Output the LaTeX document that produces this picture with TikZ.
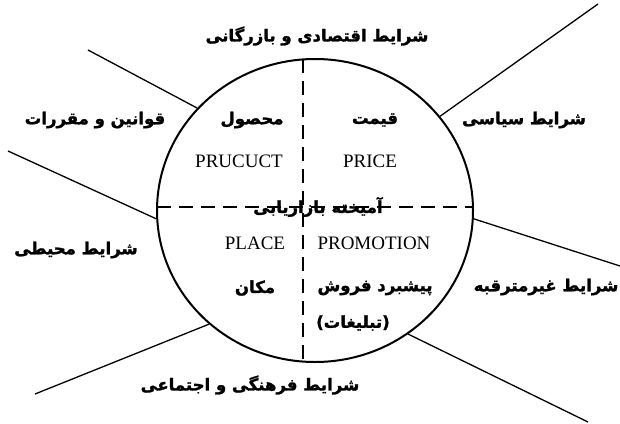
\documentclass[tikz,border=0pt]{standalone}
\usepackage{fontspec}
\setmainfont{Liberation Serif}
\newfontfamily\fa[Script=Arabic,BoldFont={DejaVu Sans Bold},BoldFeatures={FakeBold=1.6}]{DejaVu Sans}
\TeXXeTstate=1
\usetikzlibrary{shapes.geometric}
\begin{document}
\begin{tikzpicture}[x=1pt,y=-1pt,
  falabel/.style={font=\fa\bfseries\fontsize{16.5}{20}\selectfont, inner sep=0pt},
  enlabel/.style={font=\fontsize{19}{22}\selectfont, inner sep=0pt},
  spoke/.style={line width=1.3pt},
  divider/.style={line width=1.2pt, dash pattern=on 14pt off 8pt}]
\useasboundingbox (0,0) rectangle (620,423);

% the marketing-mix ellipse
\node[ellipse, draw, line width=2pt, minimum width=316pt, minimum height=303pt,
      inner sep=0pt] (mix) at (315,210.5) {};

% quadrant dividers
\coordinate (vtop) at (303,59.4);
\coordinate (vbot) at (303,361.6);
\coordinate (hleft) at (157,207);
\coordinate (hright) at (473,207);
\draw[divider] (vtop) -- (vbot);
\draw[divider] (hleft) -- (hright);

% spokes towards the environment
\coordinate (ur) at (598,4);
\coordinate (ul) at (88,50);
\coordinate (ml) at (8,151);
\coordinate (mr) at (620,266);
\coordinate (bl) at (35,394);
\coordinate (br) at (588,422);
\draw[spoke] (mix.37) -- (ur);
\draw[spoke] (mix.139.3) -- (ul);
\draw[spoke] (mix.183.8) -- (ml);
\draw[spoke] (mix.357) -- (mr);
\draw[spoke] (mix.227.9) -- (bl);
\draw[spoke] (mix.307.6) -- (br);

% environment labels
\node[falabel] (econ) at (317,36) {\beginR شرایط اقتصادی و بازرگانی\endR};
\node[falabel] (law) at (95,120) {\beginR قوانین و مقررات\endR};
\node[falabel] (pol) at (524,120) {\beginR شرایط سیاسی\endR};
\node[falabel] (envr) at (76,250) {\beginR شرایط محیطی\endR};
\node[falabel] (unexp) at (546,287) {\beginR شرایط غیرمترقبه\endR};
\node[falabel] (cult) at (250,385) {\beginR شرایط فرهنگی و اجتماعی\endR};

% the four Ps
\node[falabel] (prodfa) at (252,120) {\beginR محصول\endR};
\node[falabel] (pricefa) at (375,120) {\beginR قیمت\endR};
\node[enlabel] (proden) at (239,161) {PRUCUCT};
\node[enlabel] (priceen) at (370,161) {PRICE};
\node[falabel] (mixname) at (318,207) {\beginR آمیخته بازاریابی\endR};
\node[enlabel] (placeen) at (255,243) {PLACE};
\node[enlabel] (promoen) at (374,243) {PROMOTION};
\node[falabel] (placefa) at (255,288) {\beginR مکان\endR};
\node[falabel] (promofa) at (375,288) {\beginR پیشبرد فروش\endR};
\node[falabel] (advfa) at (353,323) {\beginR (تبلیغات)\endR};
\end{tikzpicture}
\end{document}
